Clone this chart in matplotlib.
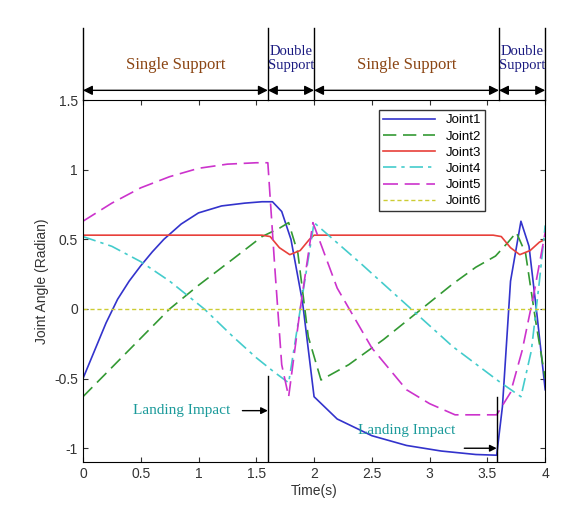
import matplotlib
matplotlib.use("Agg")
import matplotlib.pyplot as plt

# --- data ---
t1 = [0, 0.1, 0.2, 0.3, 0.4, 0.5, 0.6, 0.7, 0.85, 1.0, 1.2, 1.4, 1.55, 1.64, 1.72, 1.8, 1.9, 2.0,
      2.2, 2.5, 2.8, 3.1, 3.4, 3.58, 3.63, 3.7, 3.79, 3.86, 3.93, 4.0]
j1 = [-0.5, -0.3, -0.1, 0.07, 0.2, 0.31, 0.41, 0.5, 0.61, 0.69, 0.74, 0.76, 0.77, 0.77, 0.7, 0.5,
      0.05, -0.63, -0.79, -0.91, -0.98, -1.02, -1.045, -1.05, -0.7, 0.2, 0.63, 0.45, -0.05, -0.58]

t2 = [0, 0.25, 0.5, 0.75, 1.0, 1.3, 1.55, 1.7, 1.78, 1.86, 1.95, 2.06, 2.3, 2.6, 2.9, 3.2,
      3.4, 3.57, 3.68, 3.75, 3.83, 3.92, 4.0]
j2 = [-0.63, -0.42, -0.21, 0.0, 0.17, 0.36, 0.52, 0.58, 0.62, 0.4, -0.2, -0.51, -0.4, -0.22,
      -0.02, 0.18, 0.3, 0.38, 0.48, 0.55, 0.4, -0.1, -0.5]

t3 = [0, 1.55, 1.62, 1.7, 1.79, 1.88, 1.96, 2.0, 3.55, 3.62, 3.7, 3.78, 3.87, 3.95, 4.0]
j3 = [0.53, 0.53, 0.52, 0.44, 0.39, 0.42, 0.5, 0.53, 0.53, 0.52, 0.44, 0.39, 0.42, 0.48, 0.5]

t4 = [0, 0.25, 0.5, 0.75, 0.9, 1.05, 1.3, 1.5, 1.65, 1.78, 1.9, 2.0, 2.4, 2.8, 3.2, 3.6,
      3.79, 3.88, 3.95, 4.0]
j4 = [0.52, 0.45, 0.34, 0.2, 0.1, 0.0, -0.2, -0.35, -0.45, -0.53, 0.1, 0.62, 0.33, 0.03,
      -0.27, -0.52, -0.63, -0.3, 0.2, 0.6]

t5 = [0, 0.25, 0.5, 0.75, 1.0, 1.25, 1.5, 1.6, 1.66, 1.72, 1.78, 1.88, 1.99, 2.2, 2.5, 2.8,
      3.0, 3.22, 3.58, 3.7, 3.8, 3.9, 4.0]
j5 = [0.63, 0.76, 0.87, 0.95, 1.01, 1.04, 1.05, 1.05, 0.3, -0.4, -0.63, 0.0, 0.62, 0.15,
      -0.28, -0.58, -0.68, -0.76, -0.76, -0.6, -0.3, 0.1, 0.55]

t6 = [0, 4]
j6 = [0, 0]

phase_edges = [0, 1.6, 2.0, 3.6, 4.0]
phase_names = ["Single Support", "Double\nSupport", "Single Support", "Double\nSupport"]

serif = ["Liberation Serif", "DejaVu Serif"]
plt.rcParams["font.family"] = ["Liberation Sans", "DejaVu Sans"]

fig = plt.figure(figsize=(5.8, 5.24), dpi=100)
ax = fig.add_axes([0.143, 0.118, 0.797, 0.691])

ax.plot(t1, j1, color="#3333cc", lw=1.2, label="Joint1")
ax.plot(t2, j2, color="#339933", lw=1.2, ls=(0, (8, 4)), label="Joint2")
ax.plot(t3, j3, color="#e8403a", lw=1.2, label="Joint3")
ax.plot(t4, j4, color="#44cccc", lw=1.2, ls=(0, (8, 3, 2, 3)), label="Joint4")
ax.plot(t5, j5, color="#cc33cc", lw=1.2, ls=(0, (9, 4)), label="Joint5")
ax.plot(t6, j6, color="#cccc33", lw=1.0, ls=(0, (3, 2)), label="Joint6")

ax.set_xlim(0, 4)
ax.set_ylim(-1.1, 1.5)
ax.set_xticks([0, 0.5, 1, 1.5, 2, 2.5, 3, 3.5, 4])
ax.set_xticklabels(["0", "0.5", "1", "1.5", "2", "2.5", "3", "3.5", "4"])
ax.set_yticks([-1, -0.5, 0, 0.5, 1, 1.5])
ax.set_yticklabels(["-1", "-0.5", "0", "0.5", "1", "1.5"])
ax.tick_params(direction="in", top=True, right=True, labelsize=10, colors="#333333")
ax.set_xlabel("Time(s)", fontsize=10, color="#333333", labelpad=2)
ax.set_ylabel("Joint Angle (Radian)", fontsize=10, color="#333333")
leg = ax.legend(loc="upper right", bbox_to_anchor=(0.885, 0.99), fontsize=9.5,
                frameon=True, fancybox=False, edgecolor="black", handlelength=4,
                borderpad=0.3, labelspacing=0.3)
leg.get_frame().set_linewidth(1.0)

# phase annotations above the axes
for x in phase_edges:
    ax.plot([x, x], [1.5, 2.02], color="black", lw=1.0, clip_on=False)
for i, name in enumerate(phase_names):
    a, b = phase_edges[i], phase_edges[i + 1]
    ax.annotate("", xy=(b, 1.57), xytext=(a, 1.57), annotation_clip=False,
                arrowprops=dict(arrowstyle="<|-|>", color="black", lw=1.0,
                                shrinkA=0, shrinkB=0, mutation_scale=14))
    single = "Single" in name
    ax.text((a + b) / 2, 1.75 if single else 1.8, name, ha="center", va="center",
            family=serif, fontsize=12 if single else 10.5,
            color="#8b4513" if single else "#1a1a80", linespacing=1.1, clip_on=False)

# landing impact markers
ax.plot([1.6, 1.6], [-1.1, -0.48], color="black", lw=1.0)
ax.annotate("", xy=(1.6, -0.73), xytext=(1.38, -0.73),
            arrowprops=dict(arrowstyle="-|>", color="black", lw=1.0, shrinkA=0, shrinkB=0))
ax.text(0.85, -0.73, "Landing Impact", ha="center", va="center", family=serif,
        fontsize=11, color="#1a9a9a")
ax.plot([3.58, 3.58], [-1.1, -0.63], color="black", lw=1.0)
ax.annotate("", xy=(3.58, -1.0), xytext=(3.3, -1.0),
            arrowprops=dict(arrowstyle="-|>", color="black", lw=1.0, shrinkA=0, shrinkB=0))
ax.text(2.8, -0.87, "Landing Impact", ha="center", va="center", family=serif,
        fontsize=11, color="#1a9a9a")

fig.savefig("out.png", dpi=100)
